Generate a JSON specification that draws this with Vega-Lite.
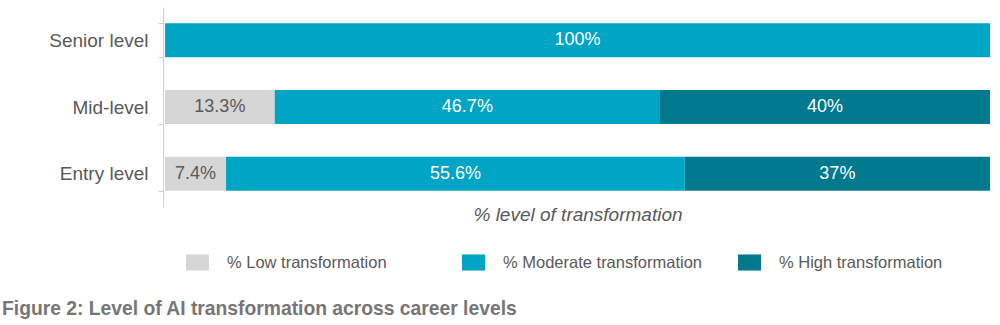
{
  "$schema": "https://vega.github.io/schema/vega-lite/v6.json",
  "width": 825,
  "height": 200,
  "autosize": {"type": "none"},
  "padding": {"left": 165, "top": 7, "right": 10, "bottom": 118},
  "background": "white",
  "config": {
    "view": {"stroke": null},
    "font": "Liberation Sans"
  },
  "title": {
    "text": "Figure 2: Level of AI transformation across career levels",
    "orient": "bottom",
    "anchor": "start",
    "frame": "group",
    "dx": -163,
    "offset": 29,
    "fontSize": 19.3,
    "fontWeight": "bold",
    "color": "#767676",
    "font": "Liberation Sans"
  },
  "data": {
    "values": [
      {"level": "Senior level", "cat": "% Low transformation", "o": 1, "v": 0},
      {"level": "Senior level", "cat": "% Moderate transformation", "o": 2, "v": 100},
      {"level": "Senior level", "cat": "% High transformation", "o": 3, "v": 0},
      {"level": "Mid-level", "cat": "% Low transformation", "o": 1, "v": 13.3},
      {"level": "Mid-level", "cat": "% Moderate transformation", "o": 2, "v": 46.7},
      {"level": "Mid-level", "cat": "% High transformation", "o": 3, "v": 40},
      {"level": "Entry level", "cat": "% Low transformation", "o": 1, "v": 7.4},
      {"level": "Entry level", "cat": "% Moderate transformation", "o": 2, "v": 55.6},
      {"level": "Entry level", "cat": "% High transformation", "o": 3, "v": 37}
    ]
  },
  "transform": [
    {"stack": "v", "groupby": ["level"], "sort": [{"field": "o", "order": "ascending"}], "as": ["x0", "x1"]},
    {"calculate": "(datum.x0 + datum.x1) / 2", "as": "mid"},
    {"calculate": "format(datum.v, '.1~f') + '%'", "as": "label"}
  ],
  "encoding": {
    "y": {
      "field": "level",
      "type": "nominal",
      "sort": ["Senior level", "Mid-level", "Entry level"],
      "scale": {"paddingInner": 0.49, "paddingOuter": 0.245},
      "axis": {
        "title": null,
        "offset": 2,
        "tickBand": "extent",
        "domainColor": "#d0d0d0",
        "tickColor": "#d0d0d0",
        "tickSize": 5,
        "labelFontSize": 19,
        "labelColor": "#595959",
        "labelPadding": 10,
        "labelFont": "Liberation Sans"
      }
    }
  },
  "layer": [
    {
      "mark": {"type": "bar"},
      "encoding": {
        "x": {
          "field": "x0",
          "type": "quantitative",
          "scale": {"domain": [0, 100], "nice": false},
          "axis": {
            "title": "% level of transformation",
            "titleFontStyle": "italic",
            "titleFontWeight": "normal",
            "titleFontSize": 19,
            "titleColor": "#595959",
            "titleFont": "Liberation Sans",
            "titlePadding": -2,
            "labels": false,
            "ticks": false,
            "domain": false,
            "grid": false
          }
        },
        "x2": {"field": "x1"},
        "color": {
          "field": "cat",
          "type": "nominal",
          "sort": ["% Low transformation", "% Moderate transformation", "% High transformation"],
          "scale": {
            "domain": ["% Low transformation", "% Moderate transformation", "% High transformation"],
            "range": ["#d6d6d6", "#00a4c5", "#00798f"]
          },
          "legend": {
            "title": null,
            "orient": "none",
            "legendX": 21,
            "legendY": 244,
            "direction": "horizontal",
            "padding": 0,
            "symbolType": "M-1,-0.7H1V0.7H-1Z",
            "symbolSize": 529,
            "symbolStrokeWidth": 0,
            "symbolOpacity": 1,
            "labelFontSize": 16.5,
            "labelColor": "#595959",
            "labelFont": "Liberation Sans",
            "labelOffset": 18,
            "gridAlign": "all",
            "columnPadding": 35,
            "labelLimit": 400
          }
        }
      }
    },
    {
      "transform": [{"filter": "datum.v > 0"}],
      "mark": {"type": "text", "fontSize": 18, "font": "Liberation Sans"},
      "encoding": {
        "x": {"field": "mid", "type": "quantitative"},
        "text": {"field": "label"},
        "color": {
          "condition": {"test": "datum.o == 1", "value": "#595959"},
          "value": "white"
        }
      }
    }
  ]
}
